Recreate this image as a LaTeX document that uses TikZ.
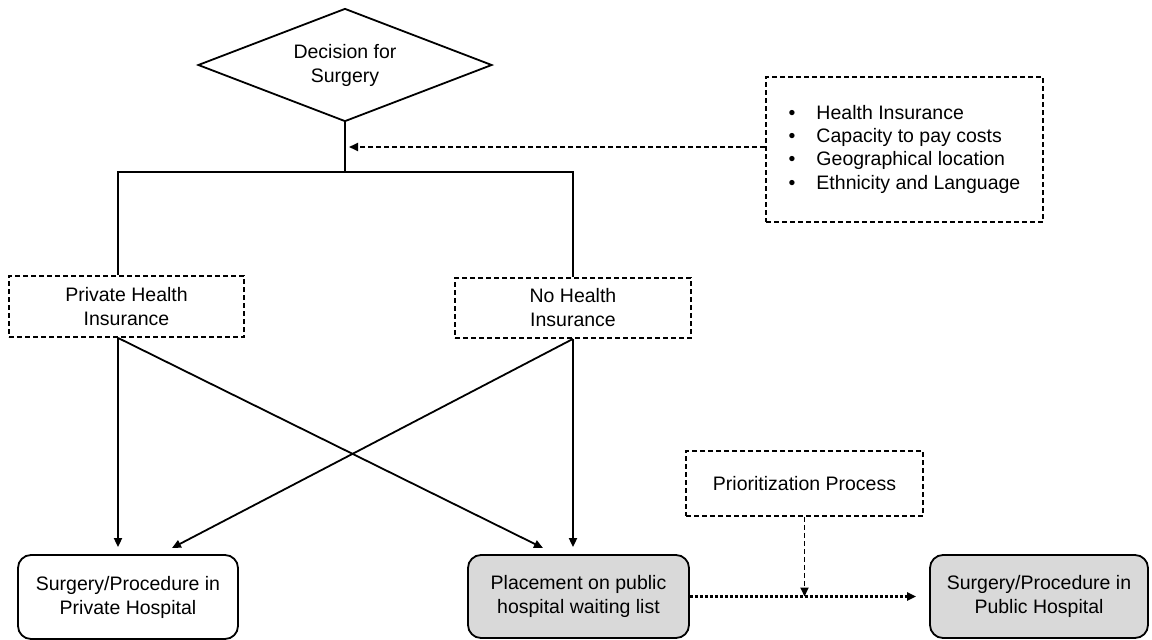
\documentclass[tikz,border=0pt]{standalone}
\usepackage{fontspec}
\setmainfont{Liberation Sans}
\usetikzlibrary{shapes.geometric,arrows.meta}
\definecolor{boxgray}{HTML}{D9D9D9}
\tikzset{
  every node/.style={font=\fontsize{19.5}{24}\selectfont, align=center, inner sep=0pt},
  line/.style={line width=1.8pt, draw=black},
  tip/.style={-{Triangle[length=9pt,width=8pt]}},
  dashbox/.style={rectangle, draw=black, line width=1.8pt, dash pattern=on 5pt off 3pt},
  endbox/.style={rectangle, rounded corners=13pt, draw=black, line width=1.8pt},
  waitbox/.style={endbox, fill=boxgray},
  dashline/.style={line width=1.8pt, dash pattern=on 5pt off 3pt},
  dotline/.style={line width=3.2pt, dash pattern=on 2.6pt off 2.4pt},
}
\begin{document}
\begin{tikzpicture}[x=1pt,y=-1pt]
  \useasboundingbox (0,0) rectangle (1152,640);

  % decision node
  \node[diamond, shape aspect=2.6, draw=black, line width=1.8pt,
        minimum width=294pt, minimum height=113pt] (dec) at (345,65) {Decision for\\Surgery};

  % influencing factors
  \node[dashbox, minimum width=277pt, minimum height=145pt] (factors) at (904.5,149.5)
    {\fontsize{19.5}{23.3}\selectfont
     \begin{tabular}{@{}l@{\hspace{21pt}}l@{}}
       • & Health Insurance\\
       • & Capacity to pay costs\\
       • & Geographical location\\
       • & Ethnicity and Language
     \end{tabular}};

  % insurance status
  \node[dashbox, minimum width=235pt, minimum height=61pt] (priv) at (126.5,306.5) {Private Health\\Insurance};
  \node[dashbox, minimum width=236pt, minimum height=60pt] (none) at (573,308) {No Health\\Insurance};

  % prioritisation
  \node[dashbox, minimum width=237pt, minimum height=65pt] (prio) at (804.5,483.5) {Prioritization Process};

  % outcomes
  \node[endbox, minimum width=220pt, minimum height=84pt] (hpriv) at (128,597) {Surgery/Procedure in\\Private Hospital};
  \node[waitbox, minimum width=221pt, minimum height=83pt] (wait) at (578.5,596.5) {Placement on public\\hospital waiting list};
  \node[waitbox, minimum width=218pt, minimum height=83pt] (hpub) at (1039,596.5) {Surgery/Procedure in\\Public Hospital};

  % branching junction
  \coordinate (jM) at (345,172);
  \coordinate (jL) at (118,172);
  \coordinate (jR) at (573,172);
  \coordinate (tW) at (543,548);
  \coordinate (tP) at (172,548);

  \draw[line] (dec.south) -- (jM);
  \draw[line] (jL |- priv.north) -- (jL) -- (jR) -- (none.north);

  % factors feeding the decision
  \draw[dashline, tip, shorten >=4pt] (factors.west |- 0,147) -- (jM |- 0,147);

  % routes from insurance status
  \draw[line, tip, shorten >=7pt] (jL |- priv.south) -- (jL |- hpriv.north);
  \draw[line, tip] (jL |- priv.south) -- (tW);
  \draw[line, tip, shorten >=7pt] (none.south) -- (none.south |- wait.north);
  \draw[line, tip] (none.south) -- (tP);

  % waiting list to public surgery
  \draw[dotline, tip, shorten >=13pt] (wait.east) -- (hpub.west);
  \draw[dashline, tip] (prio.south) -- (prio.south |- wait.east);
\end{tikzpicture}
\end{document}
